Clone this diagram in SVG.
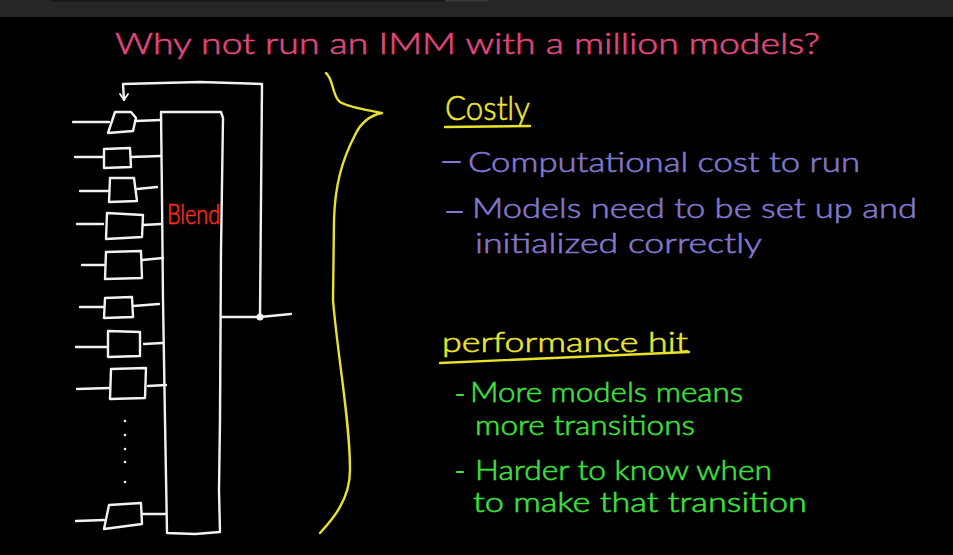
<svg xmlns="http://www.w3.org/2000/svg" width="953" height="555" viewBox="0 0 953 555">
<defs>
<style>
.w{fill:none;stroke:#f2f2f2;stroke-width:2.4;stroke-linecap:round;stroke-linejoin:round}
.y{fill:none;stroke:#e9e22a;stroke-width:2.4;stroke-linecap:round;stroke-linejoin:round}
.t{font-family:"Lato","Open Sans","Liberation Sans",sans-serif;font-weight:300;stroke-width:0.6}
.pink{fill:#e0477f;stroke:#e0477f}
.lav{fill:#8278cf;stroke:#8278cf}
.yel{fill:#ece530;stroke:#ece530}
.grn{fill:#3ee03e;stroke:#3ee03e}
.red{fill:#ff2a18;stroke:#ff2a18}
</style>
<marker id="ah" viewBox="0 0 10 10" refX="5" refY="9" markerWidth="10" markerHeight="10" orient="0" markerUnits="userSpaceOnUse">
<path d="M1,3 L5,9 L9,3" fill="none" stroke="#f2f2f2" stroke-width="1.8" stroke-linecap="round"/>
</marker>
</defs>
<rect width="953" height="555" fill="#000"/>
<rect width="953" height="17" fill="#262626"/>
<rect x="51" y="0" width="394" height="1.5" fill="#161616"/>
<rect x="445" y="0" width="43" height="1.5" fill="#3a3a3a"/>

<text class="t pink" x="115" y="54" font-size="29" textLength="705" lengthAdjust="spacingAndGlyphs">Why not run an IMM with a million models?</text>

<g id="connectors">
<path class="w" d="M73,122 L109,122"/>
<path class="w" d="M135,121 L161,120"/>
<path class="w" d="M75,157 L103,157"/>
<path class="w" d="M131,157 L161,156"/>
<path class="w" d="M80,191 L109,191"/>
<path class="w" d="M137,189 L157,187"/>
<path class="w" d="M77,224 L103,224"/>
<path class="w" d="M143,225 L161,224"/>
<path class="w" d="M82,265 L104,265"/>
<path class="w" d="M142,260 L163,258"/>
<path class="w" d="M80,307 L104,307"/>
<path class="w" d="M133,306 L159,304"/>
<path class="w" d="M76,347 L107,347"/>
<path class="w" d="M144,344 L162,343"/>
<path class="w" d="M77,389 L110,388"/>
<path class="w" d="M148,386 L166,385"/>
<path class="w" d="M76,521 L104,520"/>
<path class="w" d="M143,514 L166,514"/>
<path class="w" d="M222,317 L260,317 L291,314"/>
<path class="w" d="M260,317 L261,200 L262,84 L200,82 L123,84 L124,100" marker-end="url(#ah)"/>
<circle cx="260" cy="317" r="3.5" fill="#f2f2f2"/>
</g>

<g id="model1"><path class="w" d="M115,112 L131,112 L136,118 L133,131 L108,133 Z"/></g>
<g id="model2"><path class="w" d="M104,149 L130,148 L131,167 L104,168 Z"/></g>
<g id="model3"><path class="w" d="M110,178 L134,178 L137,201 L109,202 Z"/></g>
<g id="model4"><path class="w" d="M107,213 L143,215 L142,237 L106,239 Z"/></g>
<g id="model5"><path class="w" d="M106,252 L141,251 L142,278 L105,279 Z"/></g>
<g id="model6"><path class="w" d="M105,298 L132,297 L133,317 L104,318 Z"/></g>
<g id="model7"><path class="w" d="M108,331 L140,332 L140,356 L108,357 Z"/></g>
<g id="model8"><path class="w" d="M111,369 L146,368 L145,398 L110,399 Z"/></g>
<g id="dots" fill="#f2f2f2">
<circle cx="125" cy="421" r="1.3"/><circle cx="125" cy="435" r="1.3"/><circle cx="125" cy="449" r="1.3"/><circle cx="125" cy="462" r="1.3"/><circle cx="125" cy="482" r="1.3"/>
</g>
<g id="model9"><path class="w" d="M109,505 L141,503 L142,524 L104,529 Z"/></g>

<g id="blend">
<path class="w" d="M161,112 L221,112 L223,118 L221,250 L220,420 L219,490 L220,532 L195,534 L167,533 L165,420 L163,300 L162,200 Z"/>
<text class="t red" x="167" y="224" font-size="27" textLength="53" lengthAdjust="spacingAndGlyphs">Blend</text>
</g>

<g id="brace">
<path class="y" d="M326,73 C334,80 332,96 340,102 C350,108 368,110 382,113 C372,115 362,120 355,135 C342,160 335,185 334,220 L333,300 C338,360 350,420 350,470 C350,500 332,520 320,533"/>
</g>

<g id="costly">
<text class="t yel" x="445" y="120" font-size="33" textLength="85" lengthAdjust="spacingAndGlyphs">Costly</text>
<path class="y" d="M445,127 L530,126"/>
<path d="M443,162 L460,162 M447,212 L462,212" stroke="#8278cf" stroke-width="2.2" stroke-linecap="round"/>
<text class="t lav" x="468" y="172" font-size="28" textLength="392" lengthAdjust="spacingAndGlyphs">Computational cost to run</text>
<text class="t lav" x="472" y="218" font-size="28" textLength="445" lengthAdjust="spacingAndGlyphs">Models need to be set up and</text>
<text class="t lav" x="475" y="253" font-size="28" textLength="287" lengthAdjust="spacingAndGlyphs">initialized correctly</text>
</g>

<g id="performance">
<text class="t yel" x="442" y="352" font-size="28" textLength="246" lengthAdjust="spacingAndGlyphs">performance hit</text>
<path class="y" d="M440,363 L689,352"/>
<path d="M457,395 L463,395 M457,472 L463,472" stroke="#3ee03e" stroke-width="2.2" stroke-linecap="round"/>
<text class="t grn" x="470" y="402" font-size="28" textLength="273" lengthAdjust="spacingAndGlyphs">More models means</text>
<text class="t grn" x="475" y="435" font-size="28" textLength="220" lengthAdjust="spacingAndGlyphs">more transitions</text>
<text class="t grn" x="475" y="480" font-size="28" textLength="297" lengthAdjust="spacingAndGlyphs">Harder to know when</text>
<text class="t grn" x="473" y="512" font-size="28" textLength="334" lengthAdjust="spacingAndGlyphs">to make that transition</text>
</g>
</svg>
